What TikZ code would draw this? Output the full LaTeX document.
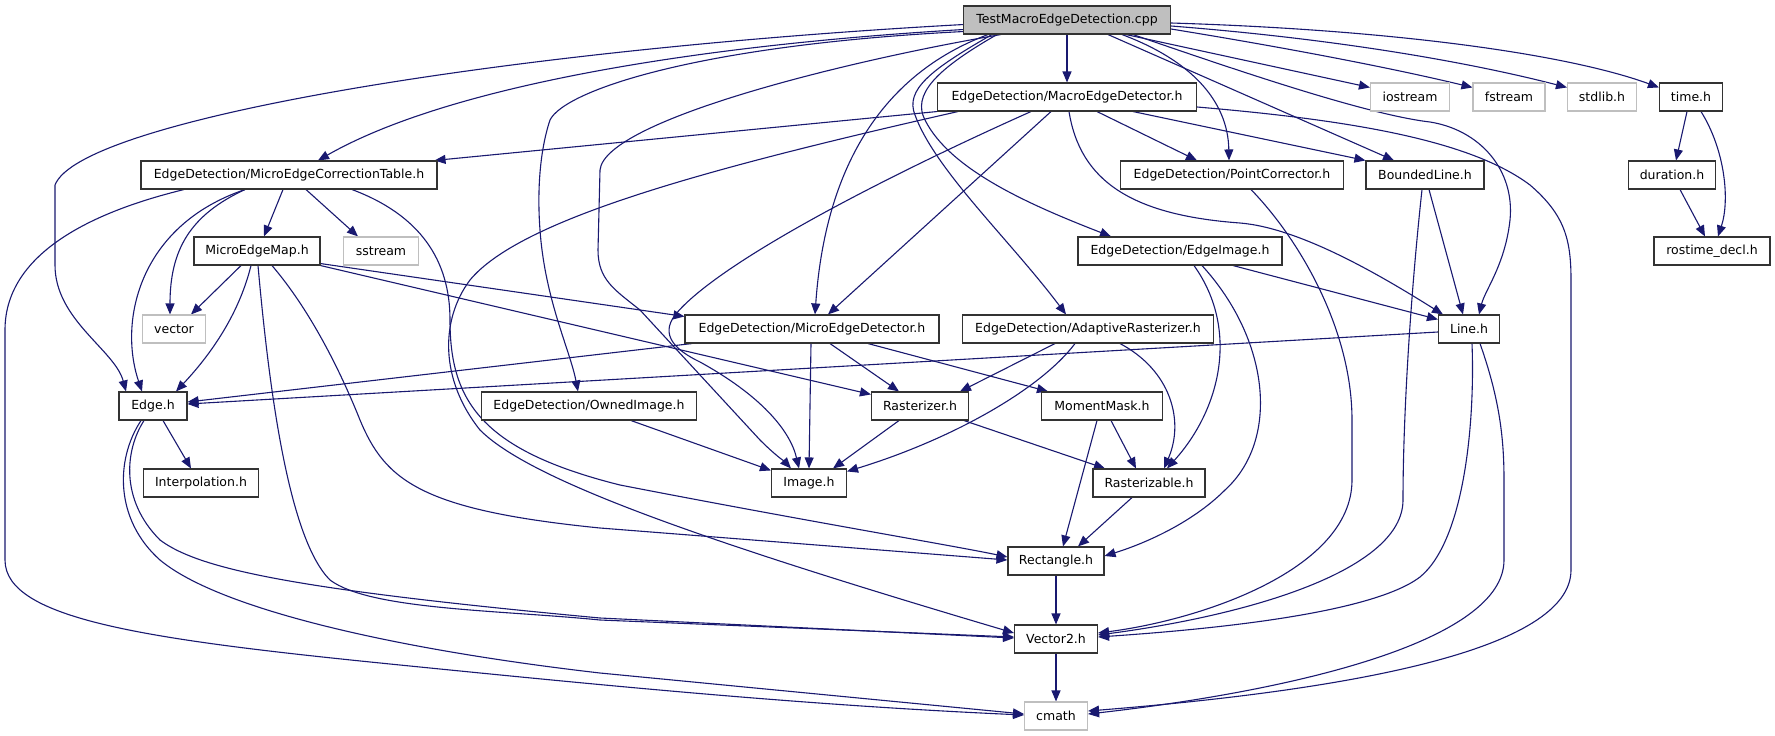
\documentclass[tikz,border=0pt]{standalone}
\usepackage{fontspec}
\setmainfont{DejaVu Sans}
\usetikzlibrary{arrows.meta}
\definecolor{edgecol}{HTML}{191970}
\definecolor{sysgray}{HTML}{BFBFBF}
\pgfdeclarelayer{bg}
\pgfsetlayers{bg,main}
\begin{document}
\begin{tikzpicture}[x=1pt,y=-1pt,
 box/.style={draw=black!80, line width=1.1pt, minimum height=28pt, inner sep=0pt, font=\fontsize{12.5}{15}\selectfont, fill=white},
 sys/.style={box, draw=sysgray},
 root/.style={box, fill=sysgray},
 dep/.style={draw=edgecol, line width=1.1pt, -{Triangle[length=11pt,width=9pt]}}]
\useasboundingbox (0,0) rectangle (1775,736);
% row 1
\node[root, minimum width=207pt] (T) at (1067,20) {TestMacroEdgeDetection.cpp};
% row 2
\node[box, minimum width=259pt] (M) at (1067,97) {EdgeDetection/MacroEdgeDetector.h};
\node[sys, minimum width=79pt] (iostream) at (1410,97) {iostream};
\node[sys, minimum width=72pt] (fstream) at (1509,97) {fstream};
\node[sys, minimum width=69pt] (stdlib) at (1602,97) {stdlib.h};
\node[box, minimum width=63pt] (time) at (1691,97) {time.h};
% row 3
\node[box, minimum width=296pt] (C) at (289,175) {EdgeDetection/MicroEdgeCorrectionTable.h};
\node[box, minimum width=223pt] (P) at (1232,175) {EdgeDetection/PointCorrector.h};
\node[box, minimum width=118pt] (B) at (1425,175) {BoundedLine.h};
\node[box, minimum width=87pt] (dur) at (1672,175) {duration.h};
% row 4
\node[box, minimum width=126pt] (E) at (257,251) {MicroEdgeMap.h};
\node[sys, minimum width=75pt] (sstream) at (381,251) {sstream};
\node[box, minimum width=204pt] (EI) at (1180,251) {EdgeDetection/EdgeImage.h};
\node[box, minimum width=116pt] (rostime) at (1712,251) {rostime\_decl.h};
% row 5
\node[sys, minimum width=63pt] (vector) at (174,329) {vector};
\node[box, minimum width=254pt] (D) at (812,329) {EdgeDetection/MicroEdgeDetector.h};
\node[box, minimum width=251pt] (A) at (1088,329) {EdgeDetection/AdaptiveRasterizer.h};
\node[box, minimum width=61pt] (L) at (1469,329) {Line.h};
% row 6
\node[box, minimum width=68pt] (Edge) at (153,406) {Edge.h};
\node[box, minimum width=215pt] (OwnedImage) at (589,406) {EdgeDetection/OwnedImage.h};
\node[box, minimum width=97pt] (R) at (920,406) {Rasterizer.h};
\node[box, minimum width=121pt] (MM) at (1102,406) {MomentMask.h};
% row 7
\node[box, minimum width=115pt] (Interp) at (201,483) {Interpolation.h};
\node[box, minimum width=75pt] (Image) at (809,483) {Image.h};
\node[box, minimum width=112pt] (Rasterizable) at (1149,483) {Rasterizable.h};
% rows 8-10
\node[box, minimum width=96pt] (Rectangle) at (1056,561) {Rectangle.h};
\node[box, minimum width=83pt] (Vector2) at (1056,639) {Vector2.h};
\node[sys, minimum width=63pt] (cmath) at (1056,716) {cmath};

\begin{pgfonlayer}{bg}
\fill[white] (0,0) rectangle (1775,736);
% from T
\draw[dep] (T.south) -- (M.north);
\draw[dep] ([yshift=5pt]T.south west) .. controls (700,45) and (450,85) .. ([xshift=29pt]C.north);
\draw[dep] ([yshift=10pt]T.south west) .. controls (500,50) and (80,120) .. (55,185) -- (55,265) .. controls (55,320) and (115,350) .. ([xshift=-27pt]Edge.north);
\draw[dep] ([yshift=3pt]T.south west) .. controls (700,45) and (565,90) .. (550,120) .. controls (540,150) and (537,190) .. (540,230) .. controls (545,300) and (570,350) .. ([xshift=-11pt]OwnedImage.north);
\draw[dep] ([xshift=-66pt]T.south) .. controls (850,60) and (605,120) .. (600,170) -- (598,250) .. controls (598,280) and (615,290) .. (640,310) -- (760,440) .. controls (775,455) and (785,462) .. ([xshift=-18pt]Image.north);
\draw[dep] ([xshift=-79pt]T.south) .. controls (880,75) and (825,170) .. ([xshift=3pt]D.north);
\draw[dep] ([xshift=-75pt]T.south) .. controls (930,70) and (905,90) .. (915,115) .. controls (935,170) and (1010,240) .. ([xshift=-22pt]A.north);
\draw[dep] ([xshift=-70pt]T.south) .. controls (935,70) and (912,95) .. (925,120) .. controls (950,170) and (1030,205) .. ([xshift=-69pt]EI.north);
\draw[dep] ([xshift=55pt]T.south) .. controls (1190,60) and (1228,100) .. ([xshift=-3pt]P.north);
\draw[dep] ([xshift=41pt]T.south) -- ([xshift=-31pt]B.north);
\draw[dep] ([xshift=66pt]T.south) .. controls (1250,75) and (1370,115) .. (1430,122) .. controls (1480,130) and (1515,170) .. (1510,220) .. controls (1505,265) and (1485,290) .. ([xshift=10pt]L.north);
\draw[dep] ([xshift=59pt]T.south) -- ([yshift=-5pt]iostream.north west);
\draw[dep] ([yshift=-9pt]T.east) .. controls (1300,50) and (1400,70) .. ([yshift=-5pt]fstream.north west);
\draw[dep] ([yshift=-6pt]T.east) .. controls (1350,40) and (1480,65) .. ([yshift=-5pt]stdlib.north west);
\draw[dep] ([yshift=-3pt]T.east) .. controls (1400,30) and (1570,55) .. ([yshift=-5pt]time.north west);
% from M
\draw[dep] (M.south west) -- ([xshift=-3pt]C.north east);
\draw[dep] ([xshift=-109pt]M.south) .. controls (700,170) and (520,220) .. (470,280) .. controls (440,320) and (440,380) .. (480,430) .. controls (530,480) and (700,540) .. ([yshift=6pt]Vector2.west);
\draw[dep] ([xshift=-16pt]M.south) -- ([xshift=16pt]D.north);
\draw[dep] ([xshift=-36pt]M.south) .. controls (900,170) and (720,260) .. (675,315) .. controls (660,335) and (675,350) .. (700,362) .. controls (760,395) and (790,430) .. ([xshift=-10pt]Image.north);
\draw[dep] ([xshift=30pt]M.south) -- ([xshift=-35pt]P.north);
\draw[dep] ([xshift=66pt]M.south) -- (B.north west);
\draw[dep] ([xshift=2pt]M.south) .. controls (1080,180) and (1130,215) .. (1240,223) .. controls (1300,228) and (1380,275) .. ([xshift=5pt]L.north west);
\draw[dep] ([yshift=-10pt]M.east) .. controls (1350,120) and (1470,140) .. (1530,185) .. controls (1565,215) and (1571,240) .. (1571,280) -- (1571,570) .. controls (1571,650) and (1350,690) .. ([yshift=5pt]cmath.east);
% from C
\draw[dep] ([xshift=-105pt]C.south) .. controls (100,210) and (5,250) .. (5,330) -- (5,560) .. controls (5,620) and (150,640) .. (400,665) .. controls (600,685) and (800,705) .. ([yshift=1pt]cmath.west);
\draw[dep] ([xshift=-44pt]C.south) .. controls (140,225) and (118,320) .. ([xshift=-11pt]Edge.north);
\draw[dep] ([xshift=-44pt]C.south) .. controls (190,215) and (170,250) .. ([xshift=-4pt]vector.north);
\draw[dep] ([xshift=-6pt]C.south) -- ([xshift=7pt]E.north);
\draw[dep] ([xshift=17pt]C.south) -- ([xshift=-23pt]sstream.north);
\draw[dep] ([xshift=63pt]C.south) .. controls (420,215) and (450,260) .. (450,320) .. controls (450,400) and (480,450) .. (620,485) .. controls (800,520) and (950,545) .. ([yshift=4pt]Rectangle.west);
% from MicroEdgeMap
\draw[dep] ([xshift=-16pt]E.south) -- ([xshift=17pt]vector.north);
\draw[dep] ([xshift=-6pt]E.south) .. controls (240,310) and (215,350) .. ([xshift=23pt]Edge.north);
\draw[dep] ([xshift=1pt]E.south) .. controls (270,400) and (290,540) .. (330,580) .. controls (370,610) and (500,610) .. (600,620) -- ([yshift=2pt]Vector2.west);
\draw[dep] ([xshift=15pt]E.south) .. controls (310,310) and (340,370) .. (360,420) .. controls (385,480) and (420,510) .. (600,528) -- ([yshift=1pt]Rectangle.west);
\draw[dep] ([yshift=2pt]E.south east) -- ([yshift=-2pt]D.north west);
\draw[dep] (E.south east) -- ([yshift=-3pt]R.north west);
% from MicroEdgeDetector
\draw[dep] ([xshift=-120pt]D.south) -- ([yshift=4pt]Edge.east);
\draw[dep] ([xshift=-1pt]D.south) -- (Image.north);
\draw[dep] ([xshift=18pt]D.south) -- ([xshift=-21pt]R.north);
\draw[dep] ([xshift=56pt]D.south) -- ([xshift=-54pt]MM.north);
% from AdaptiveRasterizer
\draw[dep] ([xshift=-33pt]A.south) -- ([xshift=40pt]R.north);
\draw[dep] ([xshift=-13pt]A.south) .. controls (1040,390) and (950,440) .. ([yshift=-3pt]Image.north east);
\draw[dep] ([xshift=32pt]A.south) .. controls (1170,370) and (1185,420) .. ([xshift=15pt]Rasterizable.north);
% Rasterizer, MomentMask, Rasterizable, Rectangle, Vector2
\draw[dep] ([xshift=-21pt]R.south) -- ([xshift=24pt]Image.north);
\draw[dep] ([xshift=44pt]R.south) -- ([xshift=-44pt]Rasterizable.north);
\draw[dep] ([xshift=9pt]MM.south) -- ([xshift=-13pt]Rasterizable.north);
\draw[dep] ([xshift=-5pt]MM.south) -- ([xshift=7pt]Rectangle.north);
\draw[dep] ([xshift=-17pt]Rasterizable.south) -- ([xshift=22pt]Rectangle.north);
\draw[dep] (Rectangle.south) -- (Vector2.north);
\draw[dep] (Vector2.south) -- (cmath.north);
% from EdgeImage
\draw[dep] ([xshift=53pt]EI.south) -- ([yshift=-5pt]L.north west);
\draw[dep] ([xshift=14pt]EI.south) .. controls (1240,330) and (1220,410) .. ([xshift=18pt]Rasterizable.north);
\draw[dep] ([xshift=22pt]EI.south) .. controls (1270,340) and (1280,440) .. (1225,490) .. controls (1190,525) and (1140,545) .. ([yshift=5pt]Rectangle.east);
% from Line
\draw[dep] ([yshift=-3pt]L.west) -- ([yshift=2pt]Edge.east);
\draw[dep] ([xshift=3pt]L.south) .. controls (1475,420) and (1465,540) .. (1420,577) .. controls (1370,615) and (1200,630) .. ([yshift=2pt]Vector2.east);
\draw[dep] ([xshift=11pt]L.south) .. controls (1500,400) and (1504,440) .. (1504,480) -- (1504,560) .. controls (1504,640) and (1300,690) .. ([yshift=2pt]cmath.east);
% from BoundedLine
\draw[dep] ([xshift=4pt]B.south) -- ([xshift=-6pt]L.north);
\draw[dep] ([xshift=-3pt]B.south) .. controls (1410,300) and (1403,420) .. (1403,500) .. controls (1403,570) and (1250,615) .. ([yshift=4pt]Vector2.east);
% from PointCorrector
\draw[dep] ([xshift=19pt]P.south) .. controls (1300,240) and (1352,330) .. (1352,420) -- (1352,480) .. controls (1352,570) and (1200,620) .. ([yshift=6pt]Vector2.east);
% time
\draw[dep] ([xshift=-4pt]time.south) -- ([xshift=4pt]dur.north);
\draw[dep] ([xshift=10pt]time.south) .. controls (1725,150) and (1730,200) .. ([xshift=6pt]rostime.north);
\draw[dep] ([xshift=8pt]dur.south) -- ([xshift=-7pt]rostime.north);
% from Edge
\draw[dep] ([xshift=10pt]Edge.south) -- ([xshift=-10pt]Interp.north);
\draw[dep] ([xshift=-9pt]Edge.south) .. controls (125,450) and (120,500) .. (160,540) .. controls (200,570) and (300,590) .. (600,618) -- ([yshift=1pt]Vector2.west);
\draw[dep] ([xshift=-12pt]Edge.south) .. controls (115,460) and (115,520) .. (160,560) .. controls (220,610) and (400,650) .. (600,673) -- ([yshift=2pt]cmath.west);
% OwnedImage
\draw[dep] ([xshift=42pt]OwnedImage.south) -- ([yshift=-2pt]Image.north west);
\end{pgfonlayer}
\end{tikzpicture}
\end{document}
